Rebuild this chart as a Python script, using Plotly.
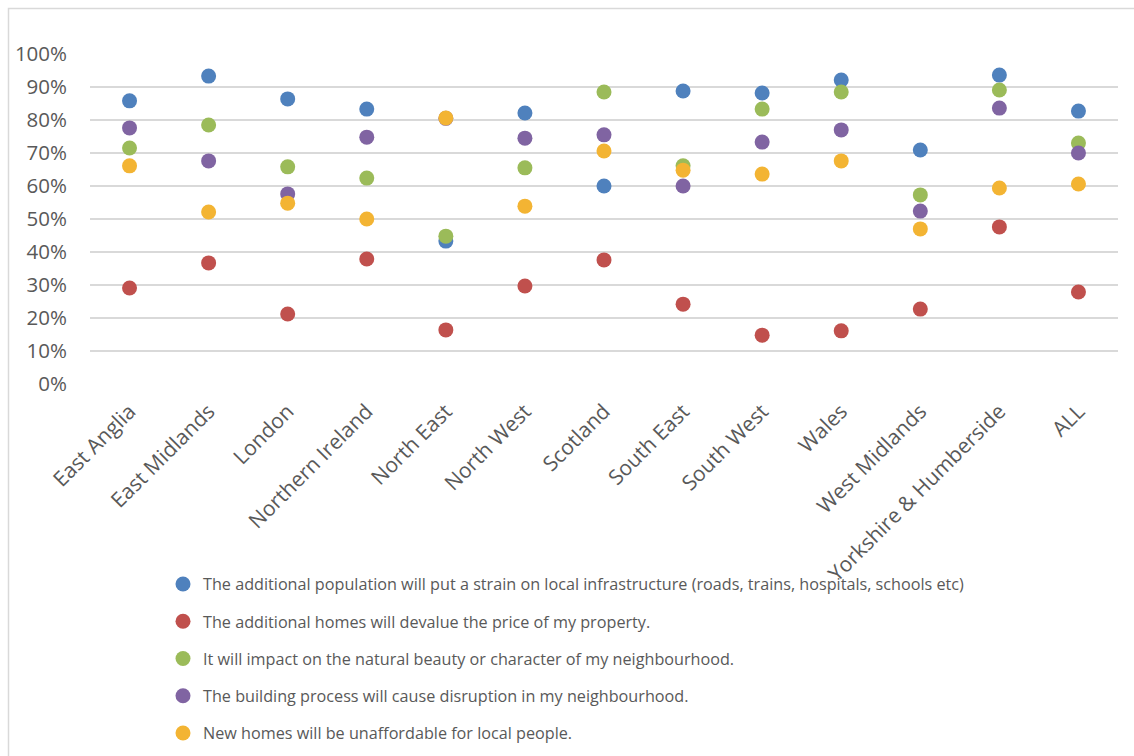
import plotly.graph_objects as go

regions = ["East Anglia", "East Midlands", "London", "Northern Ireland", "North East",
           "North West", "Scotland", "South East", "South West", "Wales",
           "West Midlands", "Yorkshire & Humberside", "ALL"]

infrastructure = [85.8, 93.3, 86.4, 83.3, 43.3, 82.1, 60.0, 88.8, 88.2, 92.1, 70.9, 93.6, 82.7]
devalue        = [29.1, 36.7, 21.2, 37.9, 16.4, 29.7, 37.6, 24.2, 14.8, 16.1, 22.7, 47.6, 27.9]
natural_beauty = [71.5, 78.5, 65.8, 62.4, 44.8, 65.5, 88.5, 66.1, 83.3, 88.5, 57.3, 89.1, 73.0]
disruption     = [77.6, 67.6, 57.6, 74.8, 80.5, 74.5, 75.5, 60.0, 73.3, 77.0, 52.4, 83.6, 70.0]
unaffordable   = [66.1, 52.1, 54.8, 50.0, 80.6, 53.9, 70.6, 64.8, 63.6, 67.6, 47.0, 59.4, 60.6]

series_names = [
    "The additional population will put a strain on local infrastructure (roads, trains, hospitals, schools etc)",
    "The additional homes will devalue the price of my property.",
    "It will impact on the natural beauty or character of my neighbourhood.",
    "The building process will cause disruption in my neighbourhood.",
    "New homes will be unaffordable for local people.",
]
series_values = [infrastructure, devalue, natural_beauty, disruption, unaffordable]
colors = ["#4F81BD", "#C0504D", "#9BBB59", "#8064A2", "#F3B433"]

fig = go.Figure()
for i, (name, vals, col) in enumerate(zip(series_names, series_values, colors)):
    fig.add_trace(go.Scatter(
        x=regions, y=[v / 100 for v in vals], mode="markers", name=name,
        legendgroup=f"g{i}",
        marker=dict(size=15, color=col, line=dict(width=0)),
        cliponaxis=False,
    ))

L, R, T, B = 90, 16, 54, 372
W, H = 1134, 756
pw, ph = W - L - R, H - T - B

def px_x(p):
    return (p - L) / pw

def px_y(p):
    return (H - B - p) / ph

fig.update_layout(
    width=W, height=H,
    margin=dict(l=L, r=R, t=T, b=B, pad=0, autoexpand=False),
    paper_bgcolor="white", plot_bgcolor="white",
    font=dict(family="Open Sans", color="#595959"),
    showlegend=True,
    legend=dict(
        xref="container", yref="container",
        x=163 / W, y=1 - 567 / H, xanchor="left", yanchor="top",
        font=dict(size=16.2, color="#595959"),
        tracegroupgap=13.2, itemwidth=30,
        bgcolor="rgba(0,0,0,0)",
    ),
    xaxis=dict(
        type="category", range=[-0.5, 12.5], automargin=False,
        tickangle=-45, tickfont=dict(size=21, color="#595959"),
        showgrid=False, showline=False, zeroline=False, ticks="",
        ticklabelstandoff=10,
    ),
    yaxis=dict(
        range=[0, 1.0], dtick=0.1, tickformat=".0%", automargin=False,
        tickfont=dict(size=20.5, color="#595959"),
        showgrid=True, gridcolor="#D9D9D9", gridwidth=1.5,
        zeroline=False, showline=False, ticks="",
        ticklabelstandoff=22,
    ),
    shapes=[dict(
        type="rect", xref="paper", yref="paper",
        x0=px_x(8.5), x1=px_x(1145), y0=px_y(765), y1=px_y(8.5),
        line=dict(color="#D9D9D9", width=1.5), fillcolor="rgba(0,0,0,0)",
        layer="below",
    )],
)

fig.write_html("out.html")
